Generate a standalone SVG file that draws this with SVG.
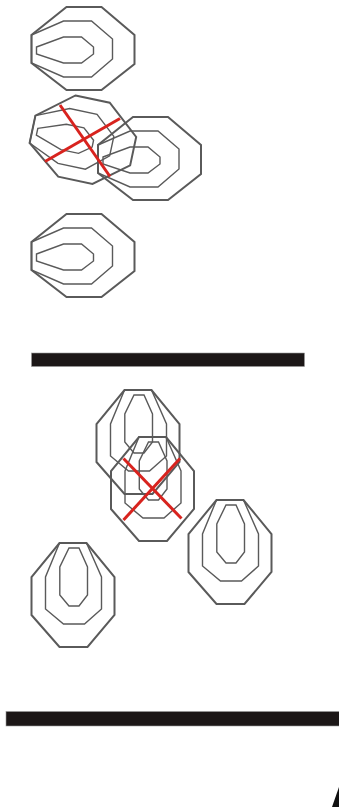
<svg xmlns="http://www.w3.org/2000/svg" width="339" height="807" viewBox="0 0 339 807">
<style>
.o{fill:none;stroke:#5a5a5a;stroke-width:2;stroke-linejoin:miter}
.m{fill:none;stroke:#5a5a5a;stroke-width:1.4}
.x{stroke:#d8231e;stroke-width:3;stroke-linecap:butt}
.bar{fill:#1c1717;stroke:#9a9a9a;stroke-width:0.6}
</style>
<defs>
<g id="H">
<polygon class="o" points="35,0 70,0 103,28 103,57 70,83 35,83 0,56 0,28"/>
<polygon class="m" points="0,28 32,14 60,14 81,32 81,52 60,70 32,70 0,56"/>
<polygon class="m" points="5,40 32,30 50,30 62,40 62,47 50,56 32,56 5,47"/>
</g>
<g id="V">
<polygon class="o" points="28,0 55,0 83,34 83,72 56,104 28,104 0,72 0,34"/>
<polygon class="m" points="28,0 14,34 14,66 32,81 53,81 70,66 70,34 55,0"/>
<polygon class="m" points="37.5,5 47.5,5 56,24 56,52 47.5,63 37.5,63 28.3,52 28.3,24"/>
</g>
</defs>
<g id="h1"><use href="#H" transform="translate(31.5,7)"/></g>
<g id="h2"><use href="#H" transform="translate(83,139.5) rotate(12) translate(-51.5,-41.5)"/></g>
<g id="h3"><use href="#H" transform="translate(98,117)"/></g>
<g id="h4"><use href="#H" transform="translate(31.5,214)"/></g>
<rect id="bar1" class="bar" x="31.5" y="353" width="273" height="13.5"/>
<g id="v1"><use href="#V" transform="translate(96.5,390)"/></g>
<g id="v2"><use href="#V" transform="translate(111,437)"/></g>
<g id="v3"><use href="#V" transform="translate(188.5,500)"/></g>
<g id="v4"><use href="#V" transform="translate(31.5,543)"/></g>
<g id="crosses">
<line class="x" x1="60" y1="105" x2="110" y2="176.5"/>
<line class="x" x1="45" y1="161.5" x2="120" y2="118.5"/>
<line class="x" x1="123.5" y1="458.5" x2="181.5" y2="518.5"/>
<line class="x" x1="180" y1="458.5" x2="123.5" y2="520"/>
</g>
<rect id="bar2" class="bar" x="6" y="711.5" width="334" height="14.5"/>
<polygon points="332,807 339,787 339,807" fill="#111"/>
</svg>
